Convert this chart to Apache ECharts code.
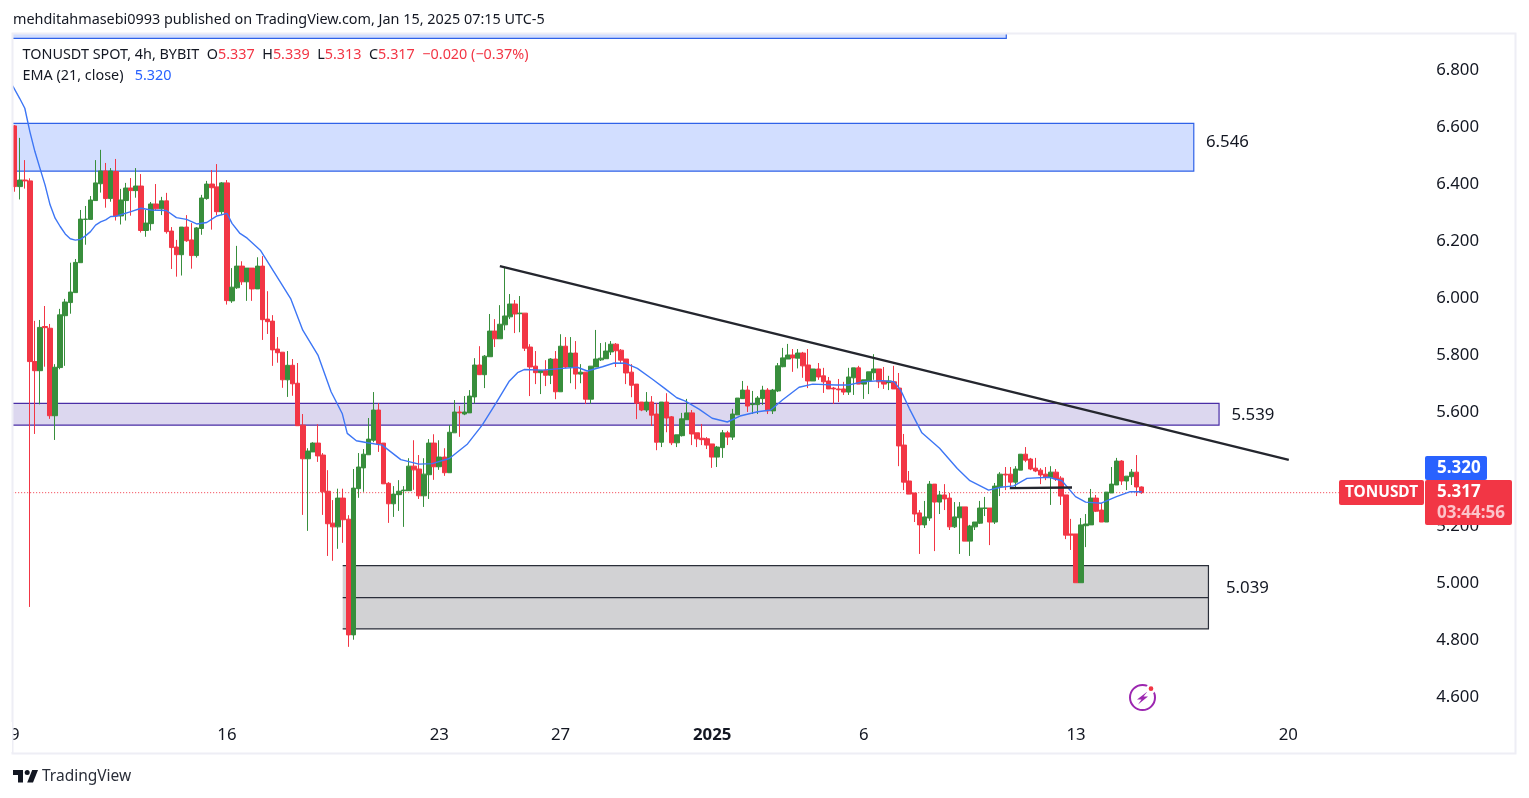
<!DOCTYPE html>
<html><head><meta charset="utf-8">
<style>html,body{margin:0;padding:0;background:#fff}#c{width:1529px;height:798px}</style>
<script src="https://cdn.jsdelivr.net/npm/echarts@6/dist/echarts.min.js"></script>
</head><body><div id="c"></div>
<script>
// open, close, low, high for each 4h candle
const candles = [
[6.604,6.391,6.373,6.607],[6.391,6.414,6.346,6.562],[6.414,6.411,6.384,6.484],[6.411,5.777,4.916,6.420],[5.777,5.745,5.523,5.920],
[5.745,5.897,5.627,5.923],[5.900,5.896,5.759,5.972],[5.894,5.587,5.576,5.909],[5.587,5.757,5.502,5.768],[5.756,5.941,5.750,5.962],
[5.938,5.986,5.762,5.997],[5.984,6.021,5.945,6.124],[6.019,6.125,6.019,6.137],[6.124,6.277,6.124,6.309],[6.276,6.277,6.187,6.323],
[6.276,6.344,6.276,6.358],[6.342,6.404,6.342,6.484],[6.401,6.446,6.370,6.520],[6.446,6.349,6.317,6.474],[6.349,6.446,6.338,6.456],
[6.444,6.288,6.272,6.488],[6.288,6.344,6.258,6.383],[6.342,6.386,6.272,6.404],[6.386,6.377,6.289,6.421],[6.377,6.393,6.352,6.456],
[6.393,6.237,6.230,6.435],[6.237,6.263,6.215,6.309],[6.261,6.330,6.237,6.337],[6.330,6.313,6.307,6.400],[6.313,6.341,6.291,6.355],
[6.341,6.233,6.226,6.369],[6.235,6.177,6.102,6.249],[6.179,6.152,6.075,6.204],[6.152,6.249,6.079,6.249],[6.249,6.201,6.197,6.291],
[6.204,6.149,6.103,6.263],[6.149,6.246,6.142,6.249],[6.244,6.351,6.222,6.362],[6.349,6.400,6.345,6.411],[6.400,6.387,6.240,6.449],
[6.390,6.303,6.291,6.470],[6.303,6.404,6.291,6.407],[6.404,5.991,5.977,6.414],[5.990,6.038,5.983,6.105],[6.036,6.112,6.032,6.183],
[6.112,6.057,6.046,6.129],[6.057,6.105,5.990,6.105],[6.105,6.032,5.990,6.105],[6.032,6.112,6.032,6.143],[6.112,5.924,5.853,6.147],
[5.926,5.917,5.874,6.024],[5.919,5.818,5.762,5.940],[5.821,5.808,5.773,5.863],[5.810,5.713,5.685,5.810],[5.713,5.764,5.653,5.814],
[5.764,5.699,5.657,5.786],[5.701,5.552,5.552,5.772],[5.554,5.436,5.239,5.593],[5.436,5.463,5.183,5.473],[5.460,5.491,5.460,5.494],
[5.491,5.446,5.425,5.557],[5.449,5.320,5.239,5.456],[5.322,5.208,5.095,5.396],[5.210,5.197,5.078,5.291],[5.197,5.298,5.120,5.331],
[5.298,5.222,5.141,5.331],[5.224,4.818,4.776,5.238],[4.818,5.333,4.801,5.400],[5.331,5.407,5.299,5.456],[5.404,5.452,5.320,5.470],
[5.450,5.505,5.450,5.579],[5.501,5.607,5.494,5.670],[5.607,5.488,5.460,5.631],[5.491,5.348,5.348,5.491],[5.350,5.278,5.211,5.354],
[5.278,5.312,5.232,5.340],[5.310,5.322,5.253,5.361],[5.324,5.326,5.197,5.340],[5.324,5.410,5.324,5.438],[5.410,5.397,5.327,5.501],
[5.400,5.306,5.295,5.449],[5.306,5.382,5.267,5.438],[5.380,5.491,5.295,5.505],[5.491,5.408,5.362,5.522],[5.408,5.442,5.397,5.501],
[5.442,5.387,5.376,5.473],[5.387,5.529,5.387,5.554],[5.527,5.600,5.527,5.642],[5.600,5.597,5.513,5.621],[5.593,5.600,5.589,5.656],
[5.597,5.656,5.597,5.677],[5.653,5.765,5.629,5.789],[5.765,5.731,5.731,5.831],[5.731,5.796,5.684,5.800],[5.794,5.884,5.794,5.944],
[5.884,5.857,5.828,5.926],[5.857,5.908,5.857,5.975],[5.906,5.937,5.887,6.108],[5.934,5.979,5.926,6.014],[5.979,5.944,5.877,5.993],
[5.945,5.947,5.880,6.007],[5.947,5.824,5.814,5.947],[5.828,5.758,5.656,5.838],[5.761,5.738,5.698,5.814],[5.738,5.746,5.663,5.746],
[5.746,5.729,5.691,5.782],[5.729,5.786,5.698,5.789],[5.786,5.671,5.645,5.814],[5.671,5.831,5.671,5.873],[5.831,5.758,5.754,5.863],
[5.758,5.807,5.701,5.863],[5.807,5.733,5.680,5.849],[5.733,5.740,5.701,5.768],[5.740,5.645,5.628,5.740],[5.645,5.761,5.629,5.761],
[5.758,5.786,5.758,5.888],[5.783,5.789,5.779,5.842],[5.787,5.814,5.786,5.845],[5.811,5.838,5.800,5.849],[5.838,5.815,5.758,5.842],
[5.817,5.782,5.772,5.821],[5.786,5.737,5.698,5.786],[5.740,5.694,5.652,5.768],[5.698,5.631,5.575,5.698],[5.635,5.607,5.603,5.635],
[5.607,5.635,5.600,5.670],[5.635,5.589,5.551,5.656],[5.593,5.494,5.466,5.631],[5.494,5.635,5.477,5.635],[5.635,5.579,5.529,5.666],
[5.583,5.492,5.484,5.586],[5.492,5.520,5.477,5.520],[5.517,5.576,5.514,5.597],[5.573,5.597,5.572,5.646],[5.597,5.523,5.484,5.607],
[5.527,5.506,5.477,5.527],[5.508,5.503,5.484,5.558],[5.506,5.484,5.470,5.512],[5.488,5.442,5.404,5.488],[5.442,5.477,5.407,5.481],
[5.475,5.527,5.439,5.537],[5.527,5.512,5.484,5.534],[5.512,5.593,5.502,5.611],[5.590,5.649,5.590,5.649],[5.647,5.677,5.646,5.709],
[5.677,5.621,5.600,5.692],[5.626,5.628,5.593,5.674],[5.626,5.649,5.593,5.656],[5.647,5.677,5.625,5.692],[5.677,5.604,5.593,5.684],
[5.604,5.677,5.593,5.681],[5.674,5.762,5.670,5.772],[5.759,5.790,5.757,5.825],[5.786,5.800,5.786,5.839],[5.800,5.790,5.741,5.821],
[5.789,5.807,5.753,5.821],[5.807,5.762,5.720,5.811],[5.765,5.709,5.684,5.821],[5.709,5.751,5.709,5.751],[5.751,5.723,5.713,5.772],
[5.727,5.706,5.667,5.755],[5.709,5.681,5.681,5.723],[5.684,5.681,5.628,5.688],[5.681,5.678,5.635,5.716],[5.681,5.670,5.660,5.706],
[5.670,5.723,5.660,5.755],[5.720,5.755,5.660,5.755],[5.755,5.698,5.698,5.762],[5.698,5.713,5.646,5.713],[5.710,5.741,5.663,5.741],
[5.738,5.751,5.713,5.803],[5.751,5.706,5.684,5.751],[5.709,5.698,5.681,5.758],[5.703,5.709,5.677,5.727],[5.706,5.681,5.681,5.762],
[5.684,5.481,5.410,5.737],[5.484,5.354,5.326,5.523],[5.358,5.312,5.312,5.393],[5.316,5.242,5.214,5.316],[5.246,5.204,5.102,5.256],
[5.204,5.232,5.193,5.288],[5.228,5.347,5.218,5.358],[5.347,5.284,5.112,5.347],[5.284,5.309,5.242,5.323],[5.309,5.295,5.256,5.347],
[5.298,5.197,5.186,5.316],[5.197,5.232,5.193,5.284],[5.229,5.267,5.102,5.284],[5.267,5.147,5.147,5.267],[5.147,5.200,5.095,5.204],
[5.197,5.214,5.186,5.214],[5.210,5.263,5.207,5.288],[5.262,5.263,5.235,5.302],[5.263,5.214,5.133,5.263],[5.214,5.340,5.207,5.351],
[5.338,5.382,5.305,5.389],[5.382,5.379,5.326,5.407],[5.382,5.354,5.330,5.407],[5.354,5.400,5.330,5.410],[5.396,5.452,5.396,5.452],
[5.452,5.431,5.424,5.477],[5.435,5.400,5.396,5.439],[5.403,5.393,5.389,5.439],[5.396,5.379,5.347,5.403],[5.382,5.371,5.361,5.407],
[5.371,5.389,5.274,5.410],[5.389,5.365,5.358,5.400],[5.368,5.305,5.274,5.375],[5.309,5.168,5.154,5.309],[5.172,5.168,5.116,5.225],
[5.172,5.001,5.001,5.172],[5.001,5.204,5.001,5.228],[5.201,5.207,5.126,5.242],[5.204,5.298,5.204,5.330],[5.298,5.252,5.249,5.309],
[5.256,5.214,5.214,5.281],[5.214,5.319,5.214,5.319],[5.316,5.347,5.316,5.407],[5.344,5.428,5.344,5.439],[5.428,5.358,5.344,5.431],
[5.358,5.375,5.326,5.375],[5.373,5.389,5.344,5.400],[5.389,5.337,5.305,5.449],[5.337,5.317,5.313,5.339]
];
// EMA (21, close), read at these candle numbers
const emaCandle = [0.6,2,3,4,5,6,7,8,9,10,11,12,13,14,15,16,17,18,19,20,21,24,26,28,31,33,35,37,39,41,43,44,45.5,47,49.6,52.7,55.6,58,61,63.6,65.8,66.8,68.6,70.8,73.7,77.4,81,83.6,87,90.6,93.5,96.2,98.8,100.5,101.8,105.4,109.4,112.3,114.3,117.3,119.6,121.9,124.2,127.2,129.6,132,133.7,136.4,139,142,144.5,148,150.6,152.9,156.2,158.9,163.5,166,168.7,172.6,175,176.3,178,180.5,184,187.5,190,193.7,196.1,198.7,201.3,205.6,208.2,210.9,212.9,216,219,221.6,224];
const emaValue = [6.745,6.70,6.666,6.584,6.514,6.455,6.397,6.327,6.280,6.251,6.225,6.208,6.203,6.206,6.218,6.233,6.256,6.267,6.274,6.286,6.287,6.303,6.315,6.309,6.307,6.282,6.276,6.260,6.265,6.288,6.297,6.262,6.228,6.21,6.168,6.080,5.998,5.887,5.80,5.671,5.595,5.525,5.499,5.492,5.484,5.433,5.417,5.419,5.437,5.488,5.554,5.630,5.707,5.738,5.749,5.747,5.753,5.757,5.744,5.759,5.772,5.771,5.753,5.715,5.683,5.650,5.638,5.610,5.578,5.565,5.586,5.601,5.607,5.642,5.687,5.698,5.695,5.695,5.706,5.710,5.706,5.677,5.613,5.527,5.473,5.402,5.359,5.326,5.336,5.341,5.367,5.371,5.359,5.303,5.284,5.280,5.303,5.320,5.320];

// Drawn zones, in candle slots and prices
const zoneFrom   = [-1,    -1,    -1,    64.9];
const zoneTo     = [196.2, 233.3, 238.3, 236.2];
const zoneTop    = [7.1,   6.613, 5.630, 5.061];
const zoneBottom = [6.911, 6.445, 5.554, 4.839];
const grayMidline = 4.949;
const zoneFill   = ['#d2deff','#d2deff','#dcd7ef','#d2d2d4'];
const zoneStroke = ['#2f62e8','#2f62e8','#4a2ea6','#2a2e39'];

// Trend lines: slot, price at each end
const trendSlots = [96.0, 252.1];
const trendPrices = [6.112, 5.432];
const flatSlots = [196.9, 209.2];
const flatPrices = [5.333, 5.335];
const lastPrice = 5.317;

const slotCount = 278;
const tickSlots  = [0,42,84,108,138,168,210,252];
const tickLabels = ['9','16','23','27','2025','6','13','20'];

const F = '"Noto Sans",sans-serif', INK = '#131722', RED = '#f23645', GREEN = '#388e3c', BLUE = '#2962ff';
const categories = Array.from({length: slotCount}, (_, i) => String(i));
const labelAt = {}; tickSlots.forEach((s, i) => labelAt[s] = tickLabels[i]);

const chart = echarts.init(document.getElementById('c'), null, {renderer: 'canvas'});
const overlayLine = (name, data, color, width, type, z) => ({
  name, type: 'line', xAxisIndex: 1, yAxisIndex: 0, data, symbol: 'none', clip: true, z, silent: true,
  lineStyle: {color, width, type}
});
const txt = (x, y, text, extra) => ({type: 'text', x, y, z: 100, silent: true,
  style: Object.assign({text, fill: INK, font: '15px ' + F, textAlign: 'left', textVerticalAlign: 'middle'}, extra || {})});
const box = (x, y, w, h, fill, r) => ({type: 'rect', z: 90, silent: true, shape: {x, y, width: w, height: h, r: r || 0}, style: {fill}});

chart.setOption({
  animation: false,
  backgroundColor: '#fff',
  grid: {left: 12.17, top: 33, width: 1405, height: 721, containLabel: false},
  xAxis: [
    {type: 'category', data: categories, boundaryGap: true, position: 'bottom',
     axisLine: {show: false}, axisTick: {show: false}, splitLine: {show: false},
     axisLabel: {inside: true, margin: 10, interval: i => i in labelAt, hideOverlap: false,
       formatter: (v, i) => { const t = labelAt[i]; return t === '2025' ? '{b|2025}' : t; },
       color: INK, fontSize: 16.8, fontFamily: F,
       rich: {b: {fontWeight: 'bold', fontSize: 16.8, color: INK, fontFamily: F}}}},
    {type: 'value', min: -0.5, max: slotCount - 0.5, show: false, splitLine: {show: false}}
  ],
  yAxis: [{type: 'value', position: 'right', min: 4.4, max: 6.93, interval: 0.2,
     axisLine: {show: false}, axisTick: {show: false}, splitLine: {show: false},
     axisLabel: {margin: 19, color: INK, fontSize: 16.8, fontFamily: F, padding: [2, 0, 0, 0], showMinLabel: false, showMaxLabel: false,
       formatter: v => v.toFixed(3)}}],
  series: [
    {name: 'zones', type: 'custom', xAxisIndex: 1, yAxisIndex: 0, clip: true, z: 1, silent: true,
     data: zoneFrom.map((_, i) => [zoneFrom[i], zoneTo[i], zoneTop[i], zoneBottom[i], i]),
     renderItem: (params, api) => {
       const i = api.value(4);
       const a = api.coord([api.value(0), api.value(2)]), b = api.coord([api.value(1), api.value(3)]);
       const children = [
         {type: 'rect', shape: {x: a[0], y: a[1], width: b[0] - a[0], height: b[1] - a[1]}, style: {fill: zoneFill[i]}},
         {type: 'polyline', shape: {points: [[a[0], a[1]], [b[0], a[1]], [b[0], b[1]], [a[0], b[1]]]},
          style: {fill: 'none', stroke: zoneStroke[i], lineWidth: 1.2}}
       ];
       if (i === 3) {
         const m = api.coord([api.value(0), grayMidline]);
         children.push({type: 'line', shape: {x1: a[0], y1: m[1], x2: b[0], y2: m[1]}, style: {stroke: zoneStroke[i], lineWidth: 1.2}});
       }
       return {type: 'group', children};
     }},
    {name: 'TONUSDT', type: 'candlestick', xAxisIndex: 0, yAxisIndex: 0, z: 3, silent: true,
     barWidth: 5, data: candles,
     itemStyle: {color: GREEN, color0: RED, borderColor: GREEN, borderColor0: RED, borderWidth: 1}},
    overlayLine('EMA', emaCandle.map((n, i) => [n - 1, emaValue[i]]), '#3d76f5', 1.4, 'solid', 4),
    overlayLine('last', [[-0.5, lastPrice], [262, lastPrice]], RED, 1, [1, 2], 2),
    overlayLine('trend', trendSlots.map((s, i) => [s, trendPrices[i]]), '#24262e', 2.4, 'solid', 5),
    overlayLine('flat', flatSlots.map((s, i) => [s, flatPrices[i]]), '#24262e', 2.4, 'solid', 5)
  ],
  graphic: [
    // pane border
    {type: 'rect', z: 50, silent: true, shape: {x: 12.5, y: 33.5, width: 1503, height: 720}, style: {fill: 'none', stroke: '#eeeef5', lineWidth: 2}},
    box(0, 722, 12, 30, '#fff'),
    txt(13, 20, 'mehditahmasebi0993 published on TradingView.com, Jan 15, 2025 07:15 UTC-5', {font: '14.4px ' + F}),
    txt(22.5, 55, '{k|TONUSDT SPOT, 4h, BYBIT}{s|  }{k|O}{r|5.337}{s|  }{k|H}{r|5.339}{s|  }{k|L}{r|5.313}{s|  }{k|C}{r|5.317}{s|  }{r|\u22120.020 (\u22120.37%)}', {
      rich: {k: {fill: INK, font: '14.4px ' + F}, r: {fill: RED, font: '14.4px ' + F}, s: {font: '14.4px ' + F}}}),
    txt(22.5, 76, '{k|EMA (21, close)}{s|   }{b|5.320}', {
      rich: {k: {fill: INK, font: '14.4px ' + F}, b: {fill: BLUE, font: '14.4px ' + F}, s: {font: '14.4px ' + F}}}),
    txt(1206, 142.5, '6.546', {font: '16.8px ' + F}),
    txt(1231.5, 415.5, '5.539', {font: '16.8px ' + F}),
    txt(1226, 588.5, '5.039', {font: '16.8px ' + F}),
    // last-value tags
    box(1425, 456, 62, 24, BLUE, 2),
    txt(1437, 468.5, '5.320', {fill: '#fff', font: 'bold 17px ' + F}),
    box(1339, 480, 85, 25, RED, 2),
    txt(1345, 492.5, 'TONUSDT', {fill: '#fff', font: 'bold 15.4px ' + F}),
    box(1425, 480, 87, 45, RED, 2),
    txt(1437, 492.5, '5.317', {fill: '#fff', font: 'bold 17px ' + F}),
    txt(1437, 513, '03:44:56', {fill: '#fcc4ca', font: 'bold 17px ' + F}),
    // TradingView mark
    {type: 'polygon', z: 100, silent: true, shape: {points: [[23,770],[13,770],[13,775],[18,775],[18,782.5],[23,782.5]]}, style: {fill: INK}},
    {type: 'polygon', z: 100, silent: true, shape: {points: [[33,782.5],[27.2,782.5],[32.2,770],[38,770]]}, style: {fill: INK}},
    {type: 'circle', z: 100, silent: true, shape: {cx: 27.2, cy: 772.5, r: 2.5}, style: {fill: INK}},
    txt(42, 777, 'TradingView', {font: '15.5px ' + F, fill: '#2a2e39'}),
    // lightning badge
    {type: 'circle', z: 100, silent: true, shape: {cx: 1142.5, cy: 697.5, r: 12.5}, style: {fill: 'none', stroke: '#9c27b0', lineWidth: 2}},
    {type: 'polygon', z: 100, silent: true, shape: {points: [[1147.5,691.5],[1137,699.5],[1141.5,699.5],[1138,704.5],[1148,696.5],[1143.5,696.5]]}, style: {fill: '#9c27b0'}},
    {type: 'circle', z: 101, silent: true, shape: {cx: 1151, cy: 688.7, r: 3.6}, style: {fill: RED, stroke: '#fff', lineWidth: 2.5}}
  ]
});
</script></body></html>
